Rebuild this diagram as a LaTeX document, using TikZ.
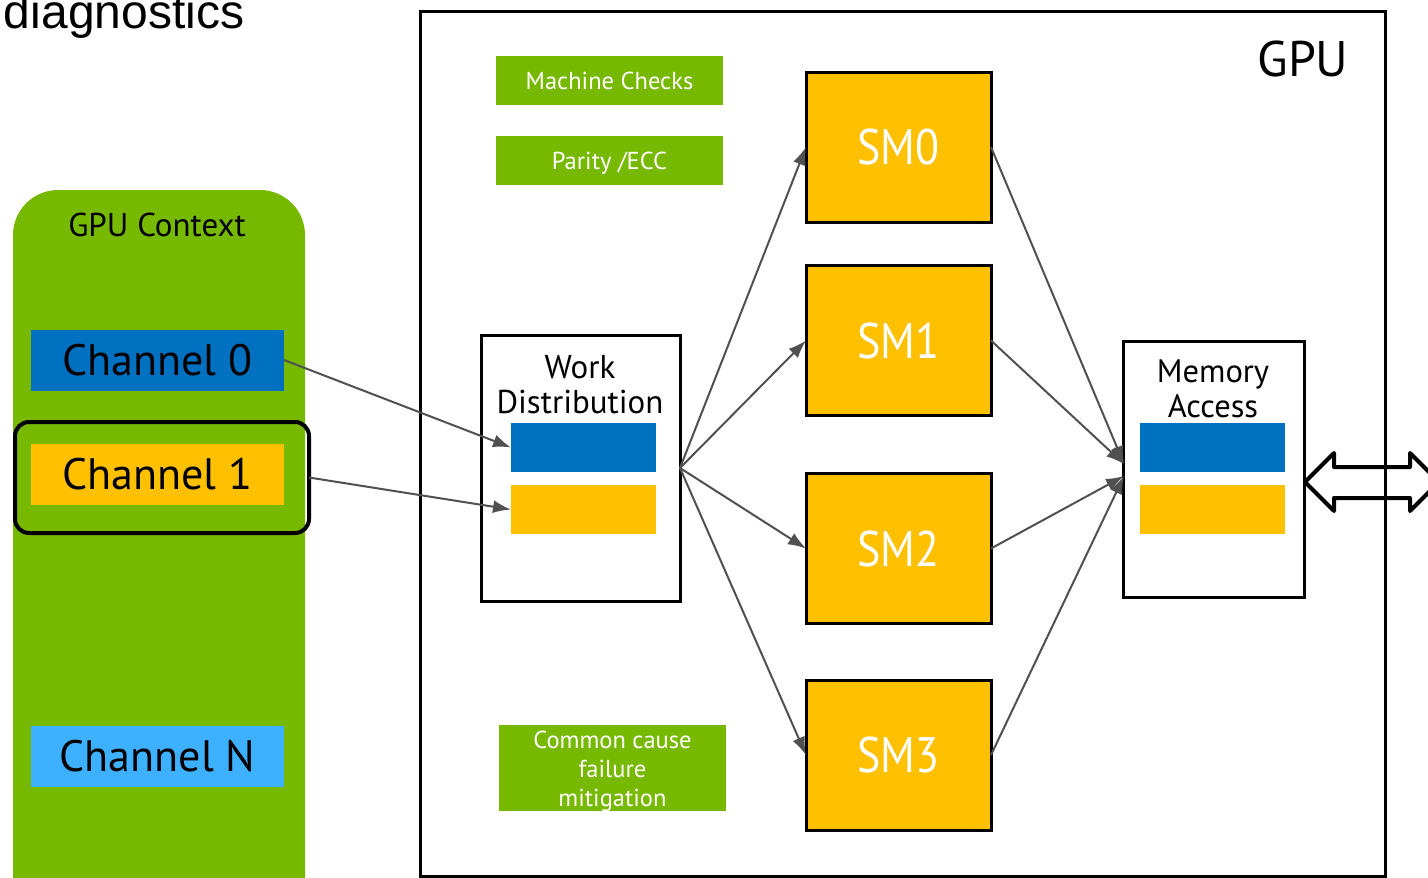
\documentclass[tikz,border=0pt]{standalone}
\usepackage{fontspec}
\setmainfont{PT Sans}
\newfontfamily\arialf{Liberation Sans}
\newfontfamily\smfont[FakeStretch=0.88]{PT Sans}
\usetikzlibrary{arrows.meta}
\definecolor{nvgreen}{HTML}{76B900}
\definecolor{nvblue}{HTML}{0070C0}
\definecolor{nvyellow}{HTML}{FFC000}
\definecolor{nvlight}{HTML}{3DB0FF}
\definecolor{arrgray}{HTML}{505050}
\begin{document}
\begin{tikzpicture}[x=1pt,y=-1pt,
  every node/.style={inner sep=0pt, outer sep=0pt},
  gbox/.style={fill=nvgreen, text=white, minimum width=227, minimum height=49, font=\fontsize{24.5}{29}\selectfont, align=center},
  smbox/.style={draw, line width=3pt, fill=nvyellow, text=white, minimum width=185, minimum height=150, font=\smfont\fontsize{50}{50}\selectfont},
  chan/.style={minimum width=253, minimum height=61, font=\fontsize{44}{44}\selectfont},
  bar/.style={minimum width=145, minimum height=49},
  frame/.style={draw, line width=3pt},
  arr/.style={draw=arrgray, line width=2pt, -{Latex[length=18pt,width=13pt]}}
]
\useasboundingbox (0,0) rectangle (1428,878);
\clip (0,0) rectangle (1428,878);

\node[anchor=base west, font=\arialf\fontsize{48}{48}\selectfont] (diag) at (4,28) {diagnostics};

% GPU frame
\node[frame, minimum width=965, minimum height=865, anchor=north west] (gpu) at (420,11) {};
\node[font=\fontsize{50}{50}\selectfont, anchor=base] (gpulbl) at (1303,76) {GPU};

\node[gbox] (mc) at (609.5,80.5) {Machine Checks};
\node[gbox, text height=24pt, text depth=6pt] (pe) at (609.5,160) {Parity /ECC};
\node[gbox, minimum height=86] (cc) at (612.5,767.5) {};
\node[text=white, font=\fontsize{24.5}{29}\selectfont, align=center] (cctxt) at (612.5,771.5) {Common cause\\failure\\mitigation};

% GPU context
\node[fill=nvgreen, rounded corners=45pt, minimum width=292, minimum height=760, anchor=north west] (ctx) at (13,190) {};
\node[font=\fontsize{33}{33}\selectfont, anchor=base] (ctxlbl) at (157,236) {GPU Context};
\node[chan, fill=nvblue] (ch0) at (157.5,360) {Channel 0};
\node[chan, fill=nvyellow] (ch1) at (157.5,474.5) {Channel 1};
\node[draw, line width=4pt, rounded corners=14pt, minimum width=294, minimum height=111] (ch1box) at (162,477.5) {};
\node[chan, fill=nvlight] (chN) at (157.5,756.5) {Channel N};

% Work distribution
\node[frame, minimum width=199, minimum height=266] (wd) at (580.5,468) {};
\node[font=\fontsize{33}{35}\selectfont, align=center, anchor=north] (wdlbl) at (580,355) {Work\\Distribution};
\node[bar, fill=nvblue] (wdb) at (583.5,447.5) {};
\node[bar, fill=nvyellow] (wdy) at (583.5,509.5) {};

% SMs
\node[smbox] (sm0) at (898.5,147) {SM0};
\node[smbox] (sm1) at (898.5,340.5) {SM1};
\node[smbox] (sm2) at (898.5,548.5) {SM2};
\node[smbox] (sm3) at (898.5,755) {SM3};

% Memory access
\node[frame, minimum width=181, minimum height=256] (mem) at (1213.5,469) {};
\node[font=\fontsize{32.5}{35}\selectfont, align=center, anchor=north] (memlbl) at (1213,360) {Memory\\Access};
\node[bar, fill=nvblue] (memb) at (1212.5,447.5) {};
\node[bar, fill=nvyellow] (memy) at (1212.5,509.5) {};

% connectors
\draw[arr] (ch0.east) -- (wdb.west);
\draw[arr] (ch1box.east) -- (wdy.west);
\draw[arr] (wd.east) -- (sm0.west);
\draw[arr] (wd.east) -- (sm1.west);
\draw[arr] (wd.east) -- (sm2.west);
\draw[arr] (wd.east) -- (sm3.west);
\coordinate (memin1) at (1124,464);
\coordinate (memin2) at (1124,476);
\draw[arr] (sm0.east) -- (memin1);
\draw[arr] (sm1.east) -- (memin1);
\draw[arr] (sm2.east) -- (memin2);
\draw[arr] (sm3.east) -- (memin2);

% double arrow to memory
\coordinate (dtip) at (1305,482);
\draw[line width=4pt, line join=round] (dtip) -- (1334,453) -- (1334,467) -- (1410,467) -- (1410,453) -- (1439,482) -- (1410,511) -- (1410,498) -- (1334,498) -- (1334,511) -- cycle;
\end{tikzpicture}
\end{document}
